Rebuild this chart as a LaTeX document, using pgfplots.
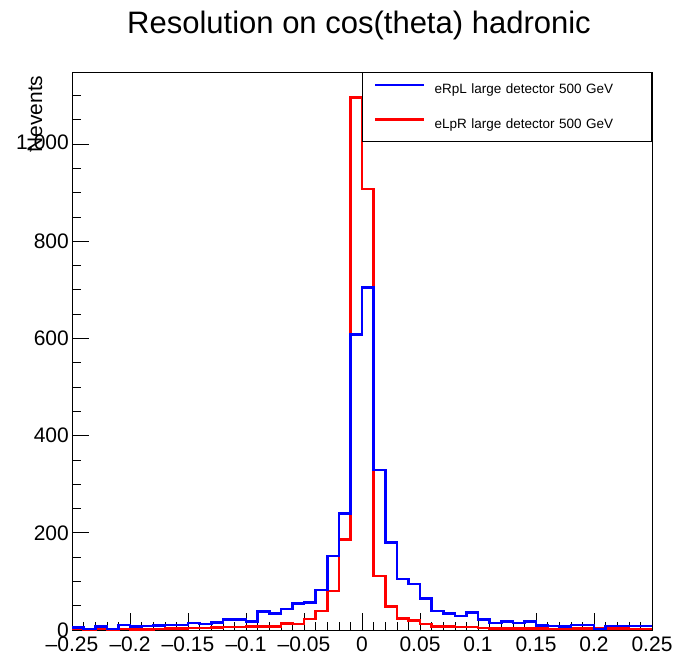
\documentclass[border=0pt]{standalone}
\usepackage{pgfplots}
\pgfplotsset{compat=1.18}
\usepackage{fontspec}
\setmainfont{Liberation Sans}
\definecolor{rblue}{RGB}{0,0,255}
\definecolor{rred}{RGB}{255,0,0}
\begin{document}
\begin{tikzpicture}[x=1pt,y=1pt]
\path[use as bounding box] (0,0) rectangle (684,658);
\begin{axis}[
  at={(72pt,28pt)}, anchor=south west,
  width=580pt, height=558pt, scale only axis,
  xmin=-0.25, xmax=0.25, ymin=0, ymax=1148,
  axis line style={line width=0.8pt},
  tick pos=left, tick align=inside,
  major tick length=17pt, minor tick length=8.5pt,
  every tick/.style={black, line width=0.6pt},
  xtick={-0.25,-0.2,-0.15,-0.1,-0.05,0,0.05,0.1,0.15,0.2,0.25},
  xticklabels={--0.25,--0.2,--0.15,--0.1,--0.05,0,0.05,0.1,0.15,0.2,0.25},
  minor xtick={-0.24,-0.23,-0.22,-0.21,-0.19,-0.18,-0.17,-0.16,-0.14,-0.13,-0.12,-0.11,-0.09,-0.08,-0.07,-0.06,-0.04,-0.03,-0.02,-0.01,0.01,0.02,0.03,0.04,0.06,0.07,0.08,0.09,0.11,0.12,0.13,0.14,0.16,0.17,0.18,0.19,0.21,0.22,0.23,0.24},
  ytick={0,200,400,600,800,1000},
  minor ytick={50,100,150,250,300,350,450,500,550,650,700,750,850,900,950,1050,1100},
  /pgf/number format/assume math mode=true,
  scaled ticks=false,
  ticklabel style={font=\fontsize{21}{25}\selectfont},
  xticklabel style={inner sep=2pt, yshift=-5pt},
  yticklabel style={inner sep=3pt},
  title={Resolution on cos(theta) hadronic},
  title style={font=\fontsize{31}{36}\selectfont, at={(axis description cs:0.5,1)}, anchor=base, yshift=32pt, xshift=-3pt},
  ylabel={Nevents},
  ylabel style={font=\fontsize{21}{25}\selectfont, at={(axis description cs:-0.0517,1)}, anchor=base east, rotate=0},
  legend style={at={(rel axis cs:1,1)}, anchor=north east, draw=black, line width=0.8pt, fill=white,
    inner xsep=0pt, inner ysep=0pt, font=\fontsize{13.5}{16}\selectfont,
    nodes={inner sep=0pt, minimum height=34.5pt},
    /tikz/every even column/.append style={text width=217pt, align=left}},
  legend cell align=left,
  legend image code/.code={\path (0pt,0pt) (71pt,0pt); \draw[#1, line width=2.6pt] (12pt,4.5pt) -- (61pt,4.5pt);},
]
\addplot[const plot, rred, line width=2.6pt, forget plot] coordinates {
(-0.25,2)(-0.24,1)(-0.23,2)(-0.22,1)(-0.21,2)(-0.20,1)(-0.19,1)(-0.18,2)(-0.17,3)(-0.16,3)
(-0.15,4)(-0.14,4)(-0.13,5)(-0.12,6)(-0.11,6)(-0.10,7)(-0.09,7)(-0.08,7)(-0.07,13)(-0.06,12)
(-0.05,23)(-0.04,39)(-0.03,80)(-0.02,186)(-0.01,1095)(0.00,907)(0.01,111)(0.02,48)(0.03,24)(0.04,19)
(0.05,12)(0.06,7)(0.07,7)(0.08,6)(0.09,6)(0.10,4)(0.11,3)(0.12,3)(0.13,3)(0.14,3)
(0.15,3)(0.16,2)(0.17,2)(0.18,3)(0.19,3)(0.20,3)(0.21,3)(0.22,3)(0.23,2)(0.24,2)(0.25,2)};
\addplot[const plot, rblue, line width=2.6pt, forget plot] coordinates {
(-0.25,5)(-0.24,2)(-0.23,7)(-0.22,2)(-0.21,10)(-0.20,7)(-0.19,8)(-0.18,9)(-0.17,10)(-0.16,10)
(-0.15,14)(-0.14,12)(-0.13,16)(-0.12,21)(-0.11,22)(-0.10,17)(-0.09,38)(-0.08,34)(-0.07,43)(-0.06,55)
(-0.05,56)(-0.04,82)(-0.03,152)(-0.02,240)(-0.01,608)(0.00,705)(0.01,329)(0.02,180)(0.03,105)(0.04,95)
(0.05,65)(0.06,39)(0.07,34)(0.08,29)(0.09,36)(0.10,22)(0.11,14)(0.12,17)(0.13,14)(0.14,17)
(0.15,9)(0.16,8)(0.17,7)(0.18,10)(0.19,10)(0.20,2)(0.21,8)(0.22,8)(0.23,8)(0.24,8)(0.25,8)};
\addlegendimage{rblue}
\addlegendentry{eRpL large detector 500 GeV}
\addlegendimage{rred}
\addlegendentry{eLpR large detector 500 GeV}
\end{axis}
\end{tikzpicture}
\end{document}
